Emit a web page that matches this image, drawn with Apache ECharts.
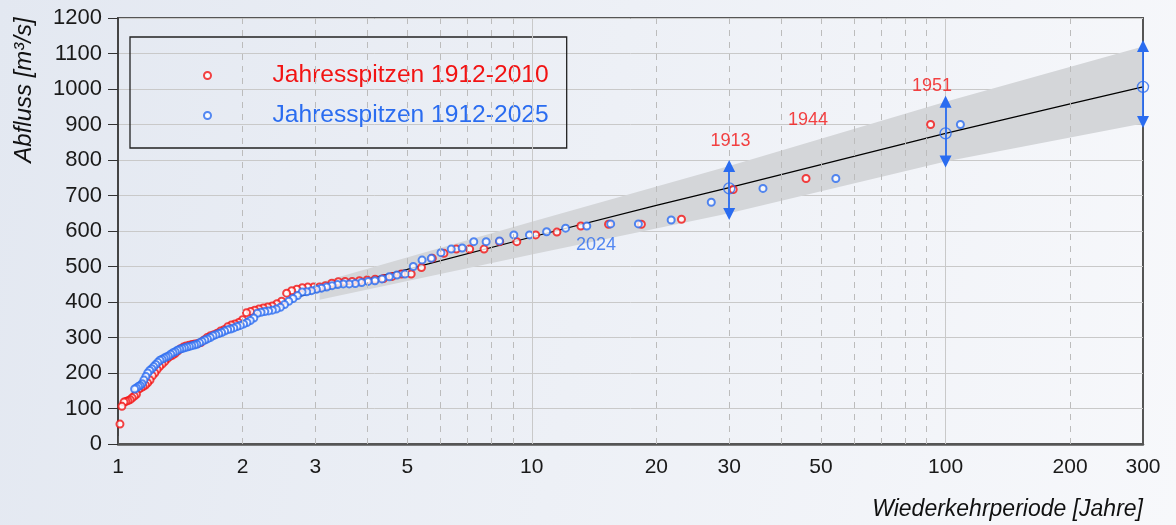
<!DOCTYPE html>
<html>
<head>
<meta charset="utf-8">
<script src="https://cdn.jsdelivr.net/npm/echarts@6/dist/echarts.min.js"></script>
<style>
  html, body { margin: 0; padding: 0; }
  body {
    width: 1176px;
    height: 525px;
    background: linear-gradient(100deg, #e3e8f1 0%, #edf0f6 50%, #f7f8fb 100%);
  }
  #chart { width: 1176px; height: 525px; }
</style>
</head>
<body>
<div id="chart"></div>
<script>
// Jahresspitzen 1912-2010 (rot): Wiederkehrperiode [Jahre] / Abfluss [m3/s]
const redT = [92, 46, 30.67, 23, 18.4, 15.33, 13.14, 11.5, 10.22, 9.2,
  8.364, 7.667, 7.077, 6.571, 6.133, 5.75, 5.412, 5.111, 4.842, 4.6,
  4.381, 4.182, 4.0, 3.833, 3.68, 3.538, 3.407, 3.286, 3.172, 3.067,
  2.968, 2.875, 2.788, 2.706, 2.629, 2.556, 2.486, 2.421, 2.359, 2.3,
  2.244, 2.19, 2.14, 2.091, 2.044, 2.0, 1.957, 1.917, 1.878, 1.84,
  1.804, 1.769, 1.736, 1.704, 1.673, 1.643, 1.614, 1.586, 1.559, 1.533,
  1.508, 1.484, 1.46, 1.438, 1.415, 1.394, 1.373, 1.353, 1.333, 1.314,
  1.296, 1.278, 1.26, 1.243, 1.227, 1.211, 1.195, 1.179, 1.165, 1.15,
  1.136, 1.122, 1.108, 1.095, 1.082, 1.07, 1.057, 1.045, 1.034, 1.022, 1.011]
const redQ = [900, 748, 717, 633, 619, 619, 614, 597, 589, 570,
  570, 549, 549, 549, 537, 523, 497, 479, 479, 472,
  466, 464, 462, 460, 458, 458, 457, 453, 446, 442,
  442, 442, 440, 436, 432, 425, 402, 395, 389, 386,
  383, 380, 377, 373, 370, 350, 342, 338, 335, 330,
  322, 318, 312, 308, 305, 300, 293, 286, 283, 282,
  280, 278, 276, 273, 268, 262, 255, 250, 246, 240,
  232, 225, 218, 210, 200, 192, 180, 172, 166, 162,
  158, 155, 140, 135, 130, 125, 122, 120, 118, 106, 56]

// Jahresspitzen 1912-2025 (blau)
const blueT = [108.6, 54.3, 36.2, 27.15, 21.72, 18.1, 15.51, 13.58, 12.07, 10.86,
  9.873, 9.05, 8.354, 7.757, 7.24, 6.788, 6.388, 6.033, 5.716, 5.43,
  5.171, 4.936, 4.722, 4.525, 4.344, 4.177, 4.022, 3.879, 3.745, 3.62,
  3.503, 3.394, 3.291, 3.194, 3.103, 3.017, 2.935, 2.858, 2.785, 2.715,
  2.649, 2.586, 2.526, 2.468, 2.413, 2.361, 2.311, 2.263, 2.216, 2.172,
  2.129, 2.088, 2.049, 2.011, 1.975, 1.939, 1.905, 1.872, 1.841, 1.81,
  1.78, 1.752, 1.724, 1.697, 1.671, 1.645, 1.621, 1.597, 1.574, 1.551,
  1.53, 1.508, 1.488, 1.468, 1.448, 1.429, 1.41, 1.392, 1.375, 1.358,
  1.341, 1.324, 1.308, 1.293, 1.278, 1.263, 1.248, 1.234, 1.22, 1.207,
  1.193, 1.18, 1.168, 1.155, 1.143, 1.131, 1.12, 1.108, 1.097]
const blueQ = [900, 748, 720, 681, 631, 620, 620, 614, 608, 598,
  589, 589, 572, 570, 570, 552, 549, 539, 523, 518,
  500, 479, 476, 471, 465, 460, 458, 455, 452, 451,
  451, 449, 446, 442, 439, 436, 432, 429, 428, 418,
  410, 402, 393, 385, 380, 377, 375, 373, 371, 368,
  355, 348, 342, 338, 334, 331, 327, 324, 322, 318,
  314, 311, 308, 305, 300, 296, 293, 289, 285, 281,
  279, 277, 275, 273, 271, 269, 267, 264, 260, 257,
  253, 248, 245, 242, 239, 236, 230, 224, 218, 212,
  207, 200, 190, 180, 170, 165, 162, 158, 155]

// Anpassung (schwarze Linie) und Vertrauensband (grau)
const fitT = [2.73, 5, 10, 20, 30, 50, 100, 200, 300]
const fitQ = [415, 492, 583, 672, 722, 787, 875, 958, 1006]
const bandT = [3.07, 10, 30, 100, 300]
const bandLow = [406, 534, 650, 796, 903]
const bandHigh = [455, 626, 783, 964, 1120]

// Schaetzwerte mit Bereich (Pfeile)
const estT = [30, 100, 300]
const estQ = [720, 875, 1006]
const estLow = [648, 796, 907]
const estHigh = [783, 964, 1121]

// Beschriftungen
const yearNames = ['1913', '1944', '1951', '2024']
const yearT = [30.2, 46.5, 92.7, 14.3]
const yearQ = [853, 912, 1008, 561]
const yearSeries = ['red', 'red', 'red', 'blue']

const xLabels = [1, 2, 3, 5, 10, 20, 30, 50, 100, 200, 300]
const xDashed = [2, 3, 4, 5, 6, 7, 8, 9, 20, 30, 40, 50, 60, 70, 80, 90, 200]
const xSolid = [10, 100]

const RED = '#f21313'
const BLUE = '#2a6cf0'
const FONT = '"Liberation Sans", Arial, sans-serif'

const zip = (a, b) => a.map((v, i) => [v, b[i]])

let chart = echarts.init(document.getElementById('chart'))
chart.setOption({
  animation: false,
  textStyle: { fontFamily: FONT },
  grid: {
    left: 118, right: 33, top: 18, bottom: 81,
    show: true, borderColor: '#555', borderWidth: 2,
    backgroundColor: 'transparent'
  },
  legend: {
    orient: 'vertical',
    left: 130, top: 37,
    padding: [26, 18, 20, 73],
    itemGap: 15,
    itemWidth: 120, itemHeight: 7,
    borderColor: '#222', borderWidth: 1.3,
    textStyle: { fontSize: 24.6, fontFamily: FONT },
    data: [
      { name: 'Jahresspitzen 1912-2010', textStyle: { color: RED } },
      { name: 'Jahresspitzen 1912-2025', textStyle: { color: BLUE } }
    ]
  },
  xAxis: {
    type: 'log', logBase: 10, min: 1, max: 300,
    axisLine: { show: true, lineStyle: { color: '#555', width: 2.5 } },
    axisTick: { show: true, inside: true, length: 8, customValues: [1, 10, 100], lineStyle: { color: '#555' } },
    axisLabel: {
      customValues: xLabels, fontSize: 21, color: '#1a1a1a', margin: 13,
      formatter: v => String(Math.round(v))
    },
    splitLine: { show: false }
  },
  yAxis: {
    type: 'value', min: 0, max: 1200, interval: 100,
    axisLine: { show: true, lineStyle: { color: '#444', width: 2 } },
    axisTick: { show: true, length: 10, lineStyle: { color: '#333' } },
    axisLabel: { fontSize: 22, color: '#1a1a1a', margin: 16, formatter: v => String(v) },
    splitLine: { lineStyle: { color: '#c9c9c9', width: 1 } }
  },
  graphic: [
    {
      type: 'text', x: 24, y: 90, rotation: Math.PI / 2,
      style: { text: 'Abfluss [m³/s]', font: 'italic 24px ' + FONT, fill: '#111', align: 'center', verticalAlign: 'middle' }
    },
    {
      type: 'text', right: 33, bottom: 4,
      style: { text: 'Wiederkehrperiode [Jahre]', font: 'italic 23px ' + FONT, fill: '#111' }
    }
  ],
  series: [
    {
      // vertikale Hilfslinien
      type: 'line', data: [], z: 1, silent: true,
      markLine: {
        silent: true, symbol: 'none', label: { show: false },
        data: xDashed.map(v => ({ xAxis: v, lineStyle: { type: [6, 6], color: '#bcbcbc', width: 1 } }))
          .concat(xSolid.map(v => ({ xAxis: v, lineStyle: { type: 'solid', color: '#c9c9c9', width: 1 } })))
      }
    },
    {
      type: 'custom', z: 2, silent: true,
      data: [[bandT[0], bandLow[0]]],
      renderItem: (params, api) => {
        const pts = bandT.map((t, i) => api.coord([t, bandHigh[i]]))
          .concat(bandT.map((t, i) => api.coord([t, bandLow[i]])).reverse())
        return { type: 'polygon', shape: { points: pts }, style: { fill: '#d4d6d9' } }
      }
    },
    {
      type: 'line', z: 3, silent: true, symbol: 'none',
      data: zip(fitT, fitQ),
      lineStyle: { color: '#000', width: 1.2 }
    },
    {
      name: 'Jahresspitzen 1912-2010', type: 'scatter', z: 4,
      symbol: 'emptyCircle', symbolSize: 7,
      itemStyle: { color: RED, borderColor: RED, borderWidth: 1.5 },
      data: zip(redT, redQ)
    },
    {
      name: 'Jahresspitzen 1912-2025', type: 'scatter', z: 4,
      symbol: 'emptyCircle', symbolSize: 7,
      itemStyle: { color: BLUE, borderColor: BLUE, borderWidth: 1.5 },
      data: zip(blueT, blueQ)
    },
    {
      type: 'scatter', z: 5, silent: true,
      symbol: 'circle', symbolSize: 11,
      itemStyle: { color: 'rgba(255,255,255,0)', borderColor: BLUE, borderWidth: 1.4 },
      data: zip(estT, estQ),
      markLine: {
        silent: true, symbol: ['none', 'triangle'], symbolSize: 12,
        label: { show: false },
        itemStyle: { color: BLUE },
        lineStyle: { color: BLUE, width: 1.8, type: 'solid' },
        data: estT.map((t, i) => [{ coord: [t, estQ[i]] }, { coord: [t, estHigh[i]] }])
          .concat(estT.map((t, i) => [{ coord: [t, estQ[i]] }, { coord: [t, estLow[i]] }]))
      }
    },
    {
      type: 'scatter', z: 6, silent: true, symbolSize: 1,
      itemStyle: { color: 'transparent' },
      label: { show: true, position: 'inside', fontSize: 18, formatter: p => p.name },
      data: yearNames.map((n, i) => ({
        name: n, value: [yearT[i], yearQ[i]],
        label: { color: yearSeries[i] === 'red' ? RED : BLUE }
      }))
    }
  ]
})
</script>
</body>
</html>
